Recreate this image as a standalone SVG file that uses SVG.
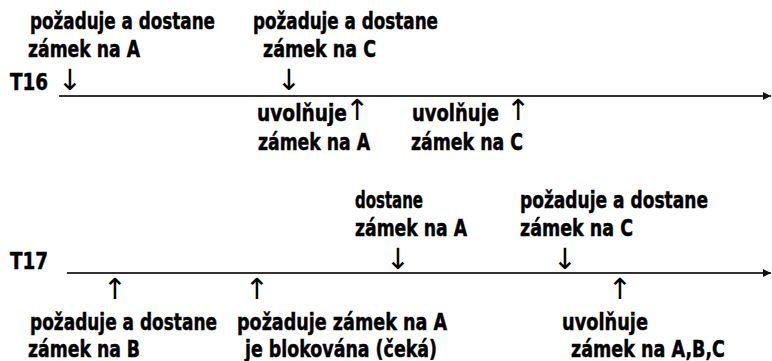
<svg xmlns="http://www.w3.org/2000/svg" width="772" height="361" viewBox="0 0 772 361">
<defs>
<marker id="ah" viewBox="0 0 10 10" refX="10" refY="5" markerWidth="4.5" markerHeight="4" orient="auto" markerUnits="strokeWidth"><path d="M0,0 L10,5 L0,10 z" fill="#111"/></marker>
<style>
.t{font-family:"DejaVu Sans",Verdana,sans-serif;font-weight:bold;font-size:23px;fill:#000;stroke:#000;stroke-width:0.5}
.a{font-family:"DejaVu Sans",sans-serif;font-weight:normal;font-size:29px;fill:#000;text-anchor:middle}
.ai{font-family:"DejaVu Sans",sans-serif;font-weight:normal;font-size:29px;stroke:none}
.ln{stroke:#333;stroke-width:2;fill:none}
</style>
</defs>
<rect width="772" height="361" fill="#fff"/>
<g id="connectors">
<line class="ln" x1="59" y1="96" x2="771" y2="96" marker-end="url(#ah)"/>
<line class="ln" x1="67" y1="273" x2="771" y2="273" marker-end="url(#ah)"/>
</g>
<g id="T16">
<text class="t" x="10" y="90" textLength="38" lengthAdjust="spacingAndGlyphs">T16</text>
</g>
<g id="t16-req-A">
<text class="t" x="30" y="29" textLength="185" lengthAdjust="spacingAndGlyphs">požaduje a dostane</text>
<text class="t" x="28" y="57" textLength="112" lengthAdjust="spacingAndGlyphs">zámek na A</text>
<text class="a" x="70" y="90">↓</text>
</g>
<g id="t16-req-C">
<text class="t" x="253" y="29" textLength="185" lengthAdjust="spacingAndGlyphs">požaduje a dostane</text>
<text class="t" x="263" y="57" textLength="113" lengthAdjust="spacingAndGlyphs">zámek na C</text>
<text class="a" x="289" y="90">↓</text>
</g>
<g id="t16-rel-A">
<text class="t" y="121"><tspan x="257" textLength="90" lengthAdjust="spacingAndGlyphs">uvolňuje</tspan><tspan class="ai" x="345" y="120">↑</tspan></text>
<text class="t" x="258" y="150" textLength="112" lengthAdjust="spacingAndGlyphs">zámek na A</text>
</g>
<g id="t16-rel-C">
<text class="t" y="121"><tspan x="412" textLength="87" lengthAdjust="spacingAndGlyphs">uvolňuje</tspan><tspan class="ai" x="506" y="120">↑</tspan></text>
<text class="t" x="411" y="150" textLength="112" lengthAdjust="spacingAndGlyphs">zámek na C</text>
</g>
<g id="T17">
<text class="t" x="10" y="269" textLength="38" lengthAdjust="spacingAndGlyphs">T17</text>
</g>
<g id="t17-get-A">
<text class="t" x="355" y="208" textLength="68" lengthAdjust="spacingAndGlyphs">dostane</text>
<text class="t" x="355" y="236" textLength="112" lengthAdjust="spacingAndGlyphs">zámek na A</text>
<text class="a" x="398" y="269">↓</text>
</g>
<g id="t17-req-C">
<text class="t" x="520" y="208" textLength="188" lengthAdjust="spacingAndGlyphs">požaduje a dostane</text>
<text class="t" x="520" y="236" textLength="113" lengthAdjust="spacingAndGlyphs">zámek na C</text>
<text class="a" x="565" y="269">↓</text>
</g>
<g id="t17-req-B">
<text class="a" x="115" y="299">↑</text>
<text class="t" x="30" y="330" textLength="187" lengthAdjust="spacingAndGlyphs">požaduje a dostane</text>
<text class="t" x="28" y="357" textLength="112" lengthAdjust="spacingAndGlyphs">zámek na B</text>
</g>
<g id="t17-wait-A">
<text class="a" x="257" y="299">↑</text>
<text class="t" x="237" y="330" textLength="210" lengthAdjust="spacingAndGlyphs">požaduje zámek na A</text>
<text class="t" x="245" y="357" textLength="192" lengthAdjust="spacingAndGlyphs">je blokována (čeká)</text>
</g>
<g id="t17-rel-ABC">
<text class="a" x="620" y="299">↑</text>
<text class="t" x="562" y="330" textLength="86" lengthAdjust="spacingAndGlyphs">uvolňuje</text>
<text class="t" x="571" y="357" textLength="154" lengthAdjust="spacingAndGlyphs">zámek na A,B,C</text>
</g>
</svg>
